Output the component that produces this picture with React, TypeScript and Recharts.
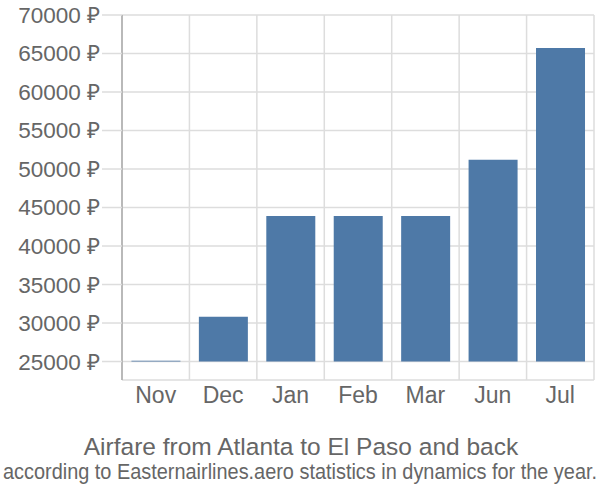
import React from "react";
import { BarChart, Bar, XAxis, YAxis, CartesianGrid } from "recharts";

const months = ["Nov", "Dec", "Jan", "Feb", "Mar", "Jun", "Jul"];
const prices = [25100, 30800, 43900, 43900, 43900, 51200, 65700];
const yTicks = [25000, 30000, 35000, 40000, 45000, 50000, 55000, 60000, 65000, 70000];
const baseValue = 25000;
const yMin = 22600;
const yMax = 70000;
const title = "Airfare from Atlanta to El Paso and back";
const subtitle = "according to Easternairlines.aero statistics in dynamics for the year.";

const data = months.map((m, i) => ({ month: m, range: [baseValue, prices[i]] }));

const FONT = "'Liberation Sans', Arial, sans-serif";

export default function App() {
  return (
    <div style={{ position: "absolute", left: 0, top: 0, width: 600, height: 500, background: "#fff", fontFamily: FONT }}>
      <BarChart
        width={600}
        height={500}
        data={data}
        margin={{ top: 15, right: 6, left: 0, bottom: 90 }}
        barCategoryGap="14%"
      >
        <CartesianGrid
          stroke="#dddddd"
          strokeWidth={1.5}
          verticalCoordinatesGenerator={(props: any) => {
            const off = props.offset;
            const n = months.length;
            return Array.from({ length: n + 1 }, (_, i) => off.left + (i * off.width) / n);
          }}
        />
        <XAxis
          dataKey="month"
          axisLine={false}
          tickLine={false}
          tickSize={0}
          tickMargin={7}
          height={30}
          interval={0}
          tick={{ fill: "#666", fontSize: 23, fontFamily: FONT }}
        />
        <YAxis
          domain={[yMin, yMax]}
          ticks={yTicks}
          allowDataOverflow
          width={122}
          axisLine={{ stroke: "#aaaaaa", strokeWidth: 1.5 }}
          tickLine={{ stroke: "#dddddd", strokeWidth: 1.5 }}
          tickSize={20}
          tickMargin={2}
          tickFormatter={(v: number) => `${v} ₽`}
          tick={{ fill: "#666", fontSize: 22.5, fontFamily: FONT }}
        />
        <Bar dataKey="range" fill="#4e79a7" isAnimationActive={false} />
      </BarChart>
      <svg width={600} height={500} style={{ position: "absolute", left: 0, top: 0, pointerEvents: "none" }}>
        <text x={301} y={455} textAnchor="middle" fontSize={24.5} fill="#666" fontFamily={FONT}>
          {title}
        </text>
        <g transform="translate(300,479) scale(0.885,1)">
          <text x={0} y={0} textAnchor="middle" fontSize={22.5} fill="#666" fontFamily={FONT}>
            {subtitle}
          </text>
        </g>
      </svg>
    </div>
  );
}
